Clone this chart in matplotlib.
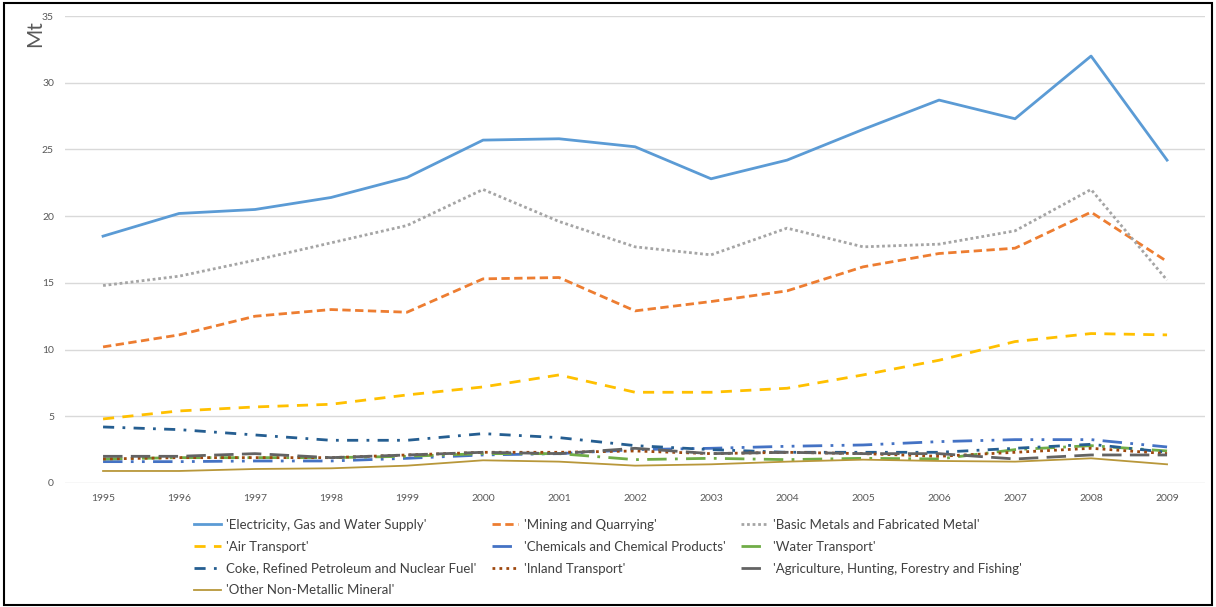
import matplotlib
matplotlib.use("Agg")
import matplotlib.pyplot as plt
from matplotlib.patches import Rectangle

years = ["1995", "1996", "1997", "1998", "1999", "2000", "2001", "2002",
         "2003", "2004", "2005", "2006", "2007", "2008", "2009"]

electricity = [18.5, 20.2, 20.5, 21.4, 22.9, 25.7, 25.8, 25.2, 22.8, 24.2, 26.5, 28.7, 27.3, 32.0, 24.2]
mining = [10.2, 11.1, 12.5, 13.0, 12.8, 15.3, 15.4, 12.9, 13.6, 14.4, 16.2, 17.2, 17.6, 20.3, 16.6]
basic_metals = [14.8, 15.5, 16.7, 18.0, 19.3, 22.0, 19.6, 17.7, 17.1, 19.1, 17.7, 17.9, 18.9, 22.0, 15.2]
air = [4.8, 5.4, 5.7, 5.9, 6.6, 7.2, 8.1, 6.8, 6.8, 7.1, 8.1, 9.2, 10.6, 11.2, 11.1]
chemicals = [1.6, 1.6, 1.65, 1.65, 1.85, 2.1, 2.2, 2.5, 2.6, 2.75, 2.85, 3.1, 3.25, 3.25, 2.7]
water = [1.8, 1.9, 1.9, 1.9, 2.0, 2.2, 2.2, 1.75, 1.85, 1.75, 1.85, 1.8, 2.5, 2.8, 2.4]
coke = [4.2, 4.0, 3.6, 3.2, 3.2, 3.7, 3.4, 2.8, 2.5, 2.3, 2.3, 2.3, 2.6, 2.9, 2.3]
inland = [1.8, 1.9, 1.9, 1.9, 2.1, 2.3, 2.3, 2.4, 2.2, 2.3, 2.2, 2.0, 2.3, 2.6, 2.2]
agriculture = [2.0, 2.0, 2.2, 1.9, 2.1, 2.3, 2.2, 2.6, 2.2, 2.3, 2.2, 2.2, 1.8, 2.1, 2.1]
other_mineral = [0.9, 0.9, 1.05, 1.1, 1.3, 1.7, 1.6, 1.3, 1.4, 1.6, 1.75, 1.65, 1.6, 1.85, 1.4]

y_ticks = [0, 5, 10, 15, 20, 25, 30, 35]

plt.rcParams["font.family"] = ["Lato", "DejaVu Sans"]

fig = plt.figure(figsize=(12.16, 6.07), dpi=100)
ax = fig.add_axes([0.0535, 0.2043, 0.9375, 0.7693])

x = list(range(len(years)))

series = [
    ("'Electricity, Gas and Water Supply'", electricity, "#5B9BD5", "-", None, 2.0),
    ("'Mining and Quarrying'", mining, "#ED7D31", "--", (0, (3, 1.6)), 2.0),
    ("'Basic Metals and Fabricated Metal'", basic_metals, "#A5A5A5", ":", (0, (1, 1)), 2.0),
    ("'Air Transport'", air, "#FFC000", "--", (0, (4, 3)), 2.0),
    ("'Chemicals and Chemical Products'", chemicals, "#4472C4", "-.", (0, (7, 3, 1, 3, 1, 3)), 2.0),
    ("'Water Transport'", water, "#70AD47", "-.", (0, (7, 3, 1, 3)), 2.0),
    ("Coke, Refined Petroleum and Nuclear Fuel'", coke, "#255E91", "-.", (0, (4, 3, 1, 3)), 2.0),
    ("'Inland Transport'", inland, "#9E480E", ":", (0, (1, 1.5)), 2.0),
    ("'Agriculture, Hunting, Forestry and Fishing'", agriculture, "#636363", "--", (0, (7, 3)), 2.0),
    ("'Other Non-Metallic Mineral'", other_mineral, "#B8973A", "-", None, 1.3),
]

handles = {}
for label, vals, color, ls, dash, lw in series:
    kw = dict(color=color, linewidth=lw, label=label)
    if dash is not None:
        kw["linestyle"] = dash
    else:
        kw["linestyle"] = "-"
    (ln,) = ax.plot(x, vals, **kw)
    handles[label] = ln

ax.set_xlim(-0.5, len(years) - 0.5)
ax.set_ylim(0, 35)
ax.set_yticks(y_ticks)
ax.set_xticks(x)
ax.set_xticklabels(years)
ax.yaxis.grid(True, color="#D9D9D9", linewidth=1)
ax.set_axisbelow(True)
for s in ax.spines.values():
    s.set_visible(False)
ax.tick_params(axis="both", length=0, labelsize=7.5, colors="#595959", pad=8)

fig.text(0.029, 0.945, "Mt", rotation=90, fontsize=15, color="#595959",
         ha="center", va="center")

# legend is filled column by column, so order items to read row by row
labels = [s[0] for s in series]
order = [0, 3, 6, 9, 1, 4, 7, 2, 5, 8]
leg = fig.legend([handles[labels[i]] for i in order], [labels[i] for i in order],
                 loc="upper center", bbox_to_anchor=(0.5, 0.165), ncol=3,
                 frameon=False, fontsize=9.5, handlelength=2.0, handletextpad=0.4,
                 columnspacing=1.2, labelspacing=0.75)
for t in leg.get_texts():
    t.set_color("#404040")

fig.patches.append(Rectangle((0.003, 0.004), 0.994, 0.991, transform=fig.transFigure,
                             fill=False, edgecolor="black", linewidth=1.5))

fig.savefig("out.png", dpi=100)
